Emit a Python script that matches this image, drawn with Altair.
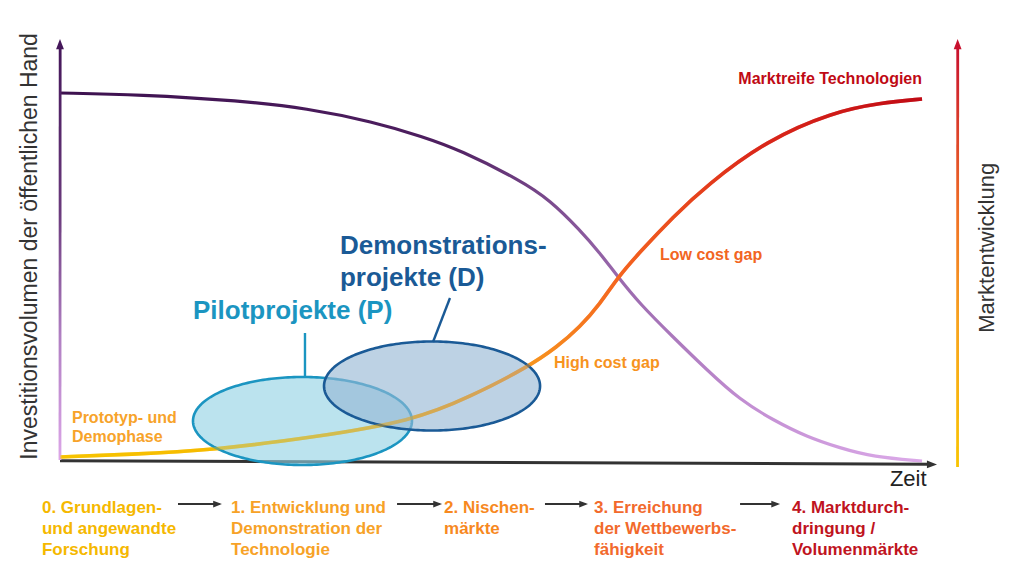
import numpy as np
import pandas as pd
import altair as alt

# ---------------- data (diagram units: time 0..100, level 0..100) ----------------
# Investitionsvolumen der öffentlichen Hand (purple, falling curve)
inv_t = [0, 9.28, 20.88, 28.65, 36.31, 42.11, 46.40, 53.36, 56.84, 60.32, 62.64, 64.73, 67.28,
         71.11, 75.05, 78.88, 82.71, 86.66, 90.48, 94.31, 100]
inv_v = [100, 99.59, 97.90, 95.83, 92.18, 88.09, 84.47, 76.29, 70.84, 62.67, 56.40, 49.86, 42.51,
         33.51, 24.52, 16.35, 10.90, 6.27, 3.27, 0.82, -0.27]

# Marktentwicklung (yellow -> red, rising S-curve)
mkt_t = [0, 8.12, 17.75, 29.35, 40.95, 47.56, 54.29, 57.65, 60.32, 62.64, 64.73, 67.28, 71.11,
         75.05, 82.02, 89.67, 95.13, 100]
mkt_v = [0.82, 1.50, 2.72, 6.13, 10.63, 17.17, 25.34, 30.79, 36.24, 42.51, 49.86, 56.68, 66.21,
         74.93, 87.19, 94.82, 97.28, 98.37]

# project ellipses: centre (t, v) and radii
ell_name = ["Pilotprojekte", "Demonstrationsprojekte"]
ell_ct = [28.13, 43.16]
ell_cv = [10.63, 20.16]
ell_rt = [12.70, 12.53]
ell_rv = [11.99, 12.13]

# pointer lines from labels to ellipses
ptr_t0 = [28.42, 45.24]
ptr_v0 = [34.60, 44.14]
ptr_t1 = [28.42, 43.27]
ptr_v1 = [22.62, 32.15]

# phase labels below the time axis
stage_text = [
    "0. Grundlagen-\nund angewandte\nForschung",
    "1. Entwicklung und\nDemonstration der\nTechnologie",
    "2. Nischen-\nmärkte",
    "3. Erreichung\nder Wettbewerbs-\nfähigkeit",
    "4. Marktdurch-\ndringung /\nVolumenmärkte",
]
stage_t = [-2.09, 19.84, 44.55, 61.95, 84.92]
stage_line_v = [-13.08, -18.80, -24.52]
stage_color = ["#f5b800", "#f7a227", "#f7891f", "#f26a2c", "#c0141e"]

arrow_t0 = [13.69, 39.10, 56.26, 78.89]
arrow_t1 = [18.79, 44.32, 61.25, 83.53]
arrow_v = -12.0

# ---------------- scales ----------------
xs = alt.Scale(domain=[-6.03, 110.90], nice=False, zero=False)
ys = alt.Scale(domain=[-29.43, 123.16], nice=False, zero=False)
FONT = "Liberation Sans"


def X(f):
    return alt.X(f"{f}:Q", scale=xs, axis=None)


def Y(f):
    return alt.Y(f"{f}:Q", scale=ys, axis=None)


def grad(stops, x1=0, y1=0, x2=1, y2=0):
    return {"gradient": "linear", "x1": x1, "y1": y1, "x2": x2, "y2": y2,
            "stops": [{"offset": o, "color": c} for o, c in stops]}


layers = []

# purple investment curve
inv_df = pd.DataFrame({"t": inv_t, "v": inv_v})
layers.append(
    alt.Chart(inv_df).mark_line(
        strokeWidth=3.2, interpolate="basis",
        stroke=grad([(0, "#3d114f"), (0.45, "#4e1f60"), (0.65, "#9a69ad"), (0.8, "#c38fd3"), (1, "#dcaae9")]),
    ).encode(x=X("t"), y=Y("v"))
)

# market curve
mkt_df = pd.DataFrame({"t": mkt_t, "v": mkt_v})
mkt_grad = grad([(0, "#f7c400"), (0.3, "#f5b400"), (0.55, "#f7921e"), (0.65, "#f4641f"),
                 (0.8, "#dc2a1a"), (1, "#c00a14")])
layers.append(
    alt.Chart(mkt_df).mark_line(strokeWidth=3.6, interpolate="basis", stroke=mkt_grad)
    .encode(x=X("t"), y=Y("v"))
)

# time axis (slightly sloping)
xaxis_df = pd.DataFrame({"t": [0, 101.0], "v": [-0.2, -1.17]})
layers.append(alt.Chart(xaxis_df).mark_line(stroke="#333333", strokeWidth=3).encode(x=X("t"), y=Y("v")))

# left axis (investment), vertical gradient
laxis_df = pd.DataFrame({"t": [0, 0.02], "v": [0, 112.5]})
layers.append(
    alt.Chart(laxis_df).mark_line(
        strokeWidth=2.8,
        stroke=grad([(0, "#dca6e8"), (0.3, "#b07fc2"), (0.6, "#6a3a7c"), (1, "#45175a")], x1=0, y1=1, x2=0, y2=0),
    ).encode(x=X("t"), y=Y("v"))
)

# right axis (market development), vertical gradient
raxis_df = pd.DataFrame({"t": [104.12, 104.14], "v": [-1.9, 112.5]})
layers.append(
    alt.Chart(raxis_df).mark_line(
        strokeWidth=2.8,
        stroke=grad([(0, "#f9c400"), (0.35, "#f7a21e"), (0.6, "#f07024"), (1, "#c8102e")], x1=0, y1=1, x2=0, y2=0),
    ).encode(x=X("t"), y=Y("v"))
)

# arrow heads of axes
up_path = "M0,0L0.62,1.6L-0.62,1.6Z"
right_path = "M0,0L-1.6,0.62L-1.6,-0.62Z"
layers.append(alt.Chart(pd.DataFrame({"t": [0], "v": [114.7]})).mark_point(
    shape=up_path, size=160, filled=True, opacity=1, color="#45175a").encode(x=X("t"), y=Y("v")))
layers.append(alt.Chart(pd.DataFrame({"t": [104.13], "v": [114.7]})).mark_point(
    shape=up_path, size=160, filled=True, opacity=1, color="#c8102e").encode(x=X("t"), y=Y("v")))
layers.append(alt.Chart(pd.DataFrame({"t": [101.74], "v": [-1.2]})).mark_point(
    shape=right_path, size=160, filled=True, opacity=1, color="#333333").encode(x=X("t"), y=Y("v")))

# ellipses
ell_fill = ["#92d2e4", "#95b6d3"]
ell_stroke = ["#1b95c1", "#1a5a96"]
ang = np.linspace(np.pi, 0, 121)
for i in range(2):
    df = pd.DataFrame({
        "t": ell_ct[i] + ell_rt[i] * np.cos(ang),
        "top": ell_cv[i] + ell_rv[i] * np.sin(ang),
        "bot": ell_cv[i] - ell_rv[i] * np.sin(ang),
    })
    layers.append(
        alt.Chart(df).mark_area(
            fill=ell_fill[i], fillOpacity=0.62, stroke=ell_stroke[i], strokeWidth=2.6, strokeOpacity=1,
        ).encode(x=X("t"), y=Y("top"), y2=alt.Y2("bot:Q"))
    )

# market curve seen through the translucent ellipses
layers.append(
    alt.Chart(mkt_df).mark_line(strokeWidth=3.6, interpolate="basis", stroke=mkt_grad, strokeOpacity=0.45)
    .encode(x=X("t"), y=Y("v"))
)

# pointer lines
for i in range(2):
    df = pd.DataFrame({"t": [ptr_t0[i]], "v": [ptr_v0[i]], "t2": [ptr_t1[i]], "v2": [ptr_v1[i]]})
    layers.append(
        alt.Chart(df).mark_rule(stroke=ell_stroke[i], strokeWidth=2.4).encode(
            x=X("t"), y=Y("v"), x2=alt.X2("t2:Q"), y2=alt.Y2("v2:Q"))
    )


def label(text, t, v, color, size, bold=True, align="left", angle=0):
    df = pd.DataFrame({"t": [t], "v": [v], "txt": [text]})
    return alt.Chart(df).mark_text(
        font=FONT, fontSize=size, fontWeight="bold" if bold else "normal", color=color,
        align=align, baseline="middle", angle=angle,
    ).encode(x=X("t"), y=Y("v"), text="txt:N")


# curve and region labels
layers.append(label("Marktreife Technologien", 100, 103.8, "#c00a14", 16, align="right"))
layers.append(label("Low cost gap", 69.6, 55.9, "#f26522", 16))
layers.append(label("High cost gap", 57.3, 26.4, "#f7931e", 16))
layers.append(label("Prototyp- und", 1.39, 11.44, "#f7a32a", 16))
layers.append(label("Demophase", 1.39, 6.27, "#f7a32a", 16))
layers.append(label("Pilotprojekte (P)", 15.43, 40.6, "#1b95c1", 26))
layers.append(label("Demonstrations-", 32.48, 58.2, "#1a5a96", 26))
layers.append(label("projekte (D)", 32.48, 49.7, "#1a5a96", 26))

# axis titles
layers.append(label("Investitionsvolumen der öffentlichen Hand", -3.48, 58.2, "#333333", 23,
                    bold=False, align="center", angle=270))
layers.append(label("Marktentwicklung", 107.54, 57.8, "#333333", 22, bold=False, align="center", angle=270))
layers.append(label("Zeit", 98.4, -5.2, "#222222", 22, bold=False, align="center"))

# phase labels
for i, txt in enumerate(stage_text):
    for k, line in enumerate(txt.split("\n")):
        layers.append(label(line, stage_t[i], stage_line_v[k], stage_color[i], 17))

# phase arrows
arr_df = pd.DataFrame({"t": arrow_t0, "t2": [a - 0.3 for a in arrow_t1], "v": [arrow_v] * 4})
layers.append(alt.Chart(arr_df).mark_rule(stroke="#333333", strokeWidth=2).encode(
    x=X("t"), x2=alt.X2("t2:Q"), y=Y("v")))
head_df = pd.DataFrame({"t": arrow_t1, "v": [arrow_v] * 4})
layers.append(alt.Chart(head_df).mark_point(shape=right_path, size=120, filled=True, opacity=1,
                                             color="#333333").encode(x=X("t"), y=Y("v")))

chart = alt.layer(*layers).properties(
    width=1008, height=560, padding=0, autosize=alt.AutoSizeParams(type="none"),
    background="white",
).configure_view(stroke=None)

chart.save("out.html", embed_options={"renderer": "svg", "actions": False})
